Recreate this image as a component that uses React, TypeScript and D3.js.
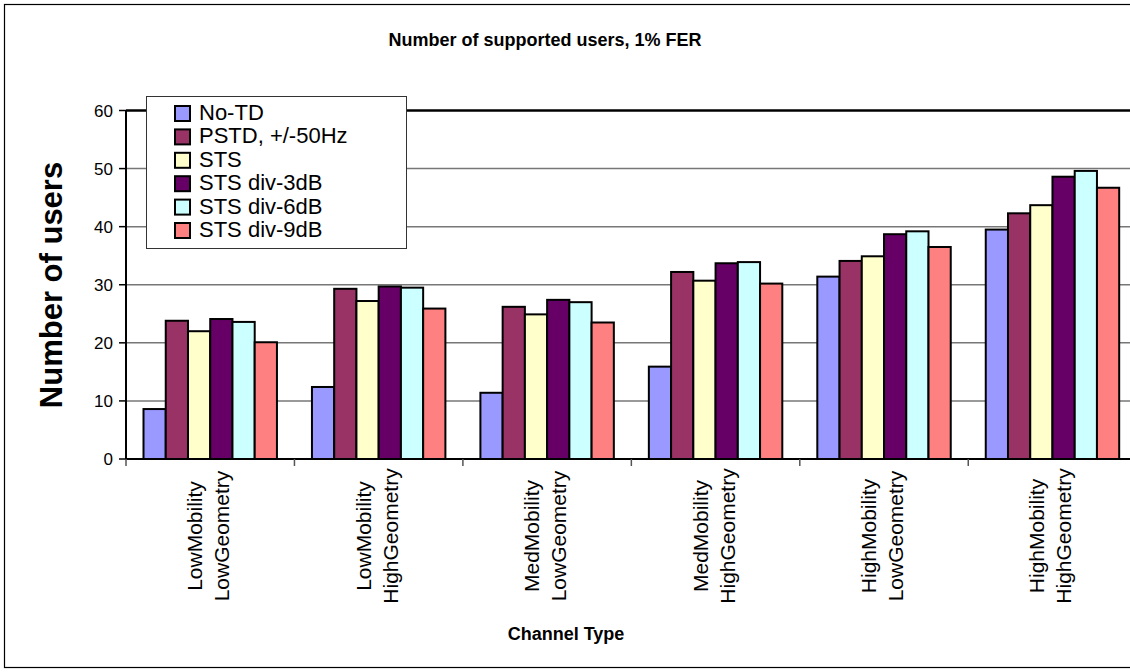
import React from "react";
import * as d3 from "d3";

const categories: string[][] = [
  ["LowMobility", "LowGeometry"],
  ["LowMobility", "HighGeometry"],
  ["MedMobility", "LowGeometry"],
  ["MedMobility", "HighGeometry"],
  ["HighMobility", "LowGeometry"],
  ["HighMobility", "HighGeometry"],
];
const seriesNames = ["No-TD", "PSTD, +/-50Hz", "STS", "STS div-3dB", "STS div-6dB", "STS div-9dB"];
const seriesColors = ["#9999FF", "#993366", "#FFFFCC", "#660066", "#CCFFFF", "#FF8080"];
const noTD = [8.6, 12.4, 11.4, 15.9, 31.4, 39.5];
const pstd = [23.8, 29.3, 26.2, 32.2, 34.1, 42.3];
const sts = [22.0, 27.2, 24.9, 30.7, 34.9, 43.7];
const div3 = [24.1, 29.7, 27.4, 33.7, 38.7, 48.6];
const div6 = [23.6, 29.5, 27.0, 33.9, 39.2, 49.6];
const div9 = [20.1, 25.9, 23.5, 30.2, 36.5, 46.7];
const seriesValues = [noTD, pstd, sts, div3, div6, div9];
const yTicks = [0, 10, 20, 30, 40, 50, 60];

const W = 1130;
const H = 672;
const left = 126;
const right = 1136.7;
const top = 110.5;
const bottom = 459;
const font = "'Liberation Sans', Arial, sans-serif";

export default function App() {
  const catKeys = categories.map((c) => c.join(" "));
  const x0 = d3.scaleBand<string>().domain(catKeys).range([left, right]).paddingInner(0).paddingOuter(0);
  const bw = x0.bandwidth();
  const gap = bw * (35 / 168.4);
  const x1 = d3.scaleBand<string>().domain(seriesNames).range([gap / 2, bw - gap / 2]).padding(0);
  const y = d3.scaleLinear().domain([0, 60]).range([bottom, top]);

  const legX = 146, legY = 96, legW = 260, legH = 152;

  return (
    <svg width={W} height={H} style={{ display: "block", position: "absolute", left: 0, top: 0 }} fontFamily={font}>
      <rect x={0} y={0} width={W} height={H} fill="#fff" />
      <rect x={4.5} y={4.5} width={W + 20} height={663} fill="none" stroke="#000" strokeWidth={1.2} />
      <text x={545} y={46} textAnchor="middle" fontWeight="bold" fontSize={18}>
        Number of  supported users, 1% FER
      </text>
      {/* gridlines */}
      {yTicks.filter((t) => t > 0 && t < 60).map((t) => (
        <line key={t} x1={left} x2={right} y1={y(t)} y2={y(t)} stroke="#777" strokeWidth={1.5} />
      ))}
      <line x1={left} x2={right} y1={y(60)} y2={y(60)} stroke="#000" strokeWidth={2.5} />
      {/* bars */}
      {categories.map((c, ci) => (
        <g key={ci} transform={`translate(${x0(catKeys[ci])},0)`}>
          {seriesNames.map((s, si) => (
            <rect
              key={s}
              x={x1(s)}
              y={y(seriesValues[si][ci])}
              width={x1.bandwidth()}
              height={bottom - y(seriesValues[si][ci])}
              fill={seriesColors[si]}
              stroke="#000"
              strokeWidth={2}
            />
          ))}
        </g>
      ))}
      {/* axes */}
      <line x1={left} x2={left} y1={top} y2={bottom + 1} stroke="#000" strokeWidth={2} />
      <line x1={left} x2={right} y1={bottom} y2={bottom} stroke="#000" strokeWidth={2} />
      {yTicks.map((t) => (
        <g key={t}>
          <line x1={119} x2={left} y1={y(t)} y2={y(t)} stroke="#000" strokeWidth={1.5} />
          <text x={113} y={y(t)} dy="0.36em" textAnchor="end" fontSize={17}>
            {t}
          </text>
        </g>
      ))}
      {catKeys.map((k) => (
        <line key={k} x1={x0(k) as number} x2={x0(k) as number} y1={bottom} y2={bottom + 7} stroke="#555" strokeWidth={1.5} />
      ))}
      {categories.map((c, i) => {
        const cx = (x0(catKeys[i]) as number) + bw / 2;
        return (
          <g key={i}>
            <text transform={`translate(${cx - 8},536) rotate(-90)`} textAnchor="middle" fontSize={21}>
              {c[0]}
            </text>
            <text transform={`translate(${cx + 19},536) rotate(-90)`} textAnchor="middle" fontSize={21}>
              {c[1]}
            </text>
          </g>
        );
      })}
      <text transform="translate(62,285) rotate(-90)" textAnchor="middle" fontWeight="bold" fontSize={31}>
        Number of users
      </text>
      <text x={566} y={640} textAnchor="middle" fontWeight="bold" fontSize={18}>
        Channel Type
      </text>
      {/* legend */}
      <rect x={legX + 0.5} y={legY + 0.5} width={legW} height={legH} fill="#fff" stroke="#333" strokeWidth={1} />
      {seriesNames.map((s, i) => {
        const base = 120 + i * 23.4;
        return (
          <g key={s}>
            <rect x={175} y={base - 14} width={15} height={15} fill={seriesColors[i]} stroke="#000" strokeWidth={2} />
            <text x={199} y={base} fontSize={22}>
              {s}
            </text>
          </g>
        );
      })}
    </svg>
  );
}
